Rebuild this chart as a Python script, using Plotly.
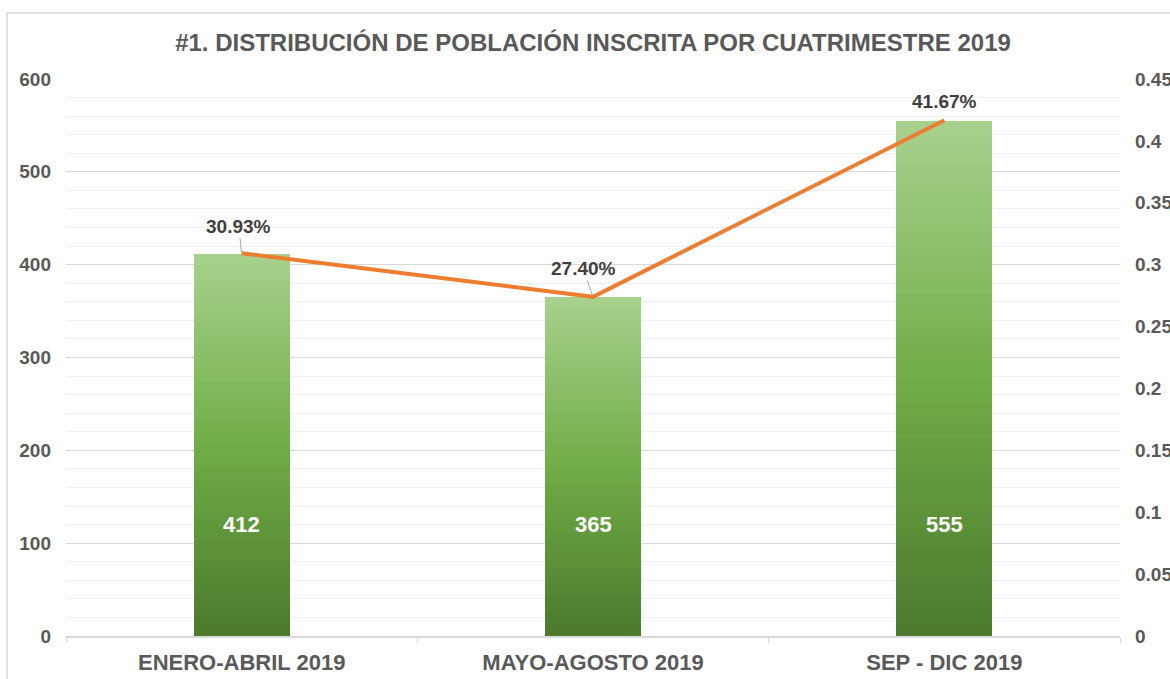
import plotly.graph_objects as go

categories = ["ENERO-ABRIL 2019", "MAYO-AGOSTO 2019", "SEP - DIC 2019"]
inscritos = [412, 365, 555]
porcentaje = [0.3093, 0.2740, 0.4167]
title_text = "#1. DISTRIBUCIÓN DE POBLACIÓN INSCRITA POR CUATRIMESTRE 2019"

FONT = "Liberation Sans, Arial, sans-serif"
GRAY = "#595959"

# gradient stops (bottom -> middle -> top)
c_bot = (76, 121, 45)
c_mid = (112, 173, 71)
c_top = (169, 209, 142)


def grad(t):
    if t < 0.5:
        a, b, u = c_bot, c_mid, t / 0.5
    else:
        a, b, u = c_mid, c_top, (t - 0.5) / 0.5
    return "rgb(%d,%d,%d)" % tuple(round(a[i] + (b[i] - a[i]) * u) for i in range(3))


fig = go.Figure()
N = 60
for k in range(N, 0, -1):
    f = k / N
    fig.add_trace(go.Bar(
        x=categories, y=[v * f for v in inscritos], width=0.273,
        marker=dict(color=grad(f - 0.5 / N), line=dict(width=0)),
        hoverinfo="skip", showlegend=False, yaxis="y",
    ))

fig.add_trace(go.Scatter(
    x=categories, y=porcentaje, yaxis="y2", mode="lines",
    line=dict(color="#ED7D31", width=4), showlegend=False, hoverinfo="skip",
))

# value labels inside bars
for c, v in zip(categories, inscritos):
    fig.add_annotation(x=c, y=120, xref="x", yref="y", text=str(v), showarrow=False,
                       font=dict(family=FONT, size=22, color="white", weight="bold"))

# percentage labels
offsets = [(-3, -27, True), (-10, -28, True), (0, -19, False)]
for c, p, (ax, ay, arr) in zip(categories, porcentaje, offsets):
    if arr:
        fig.add_annotation(x=c, y=p, xref="x", yref="y2", text=f"{p*100:.2f}%",
                           showarrow=True, arrowhead=0, arrowwidth=1, arrowcolor="#A6A6A6",
                           ax=ax, ay=ay, standoff=1,
                           font=dict(family=FONT, size=19, color="#404040", weight="bold"))
    else:
        fig.add_annotation(x=c, y=p, xref="x", yref="y2", text=f"{p*100:.2f}%",
                           showarrow=False, yshift=-ay,
                           font=dict(family=FONT, size=19, color="#404040", weight="bold"))

# chart border
fig.add_shape(type="rect", xref="paper", yref="paper",
              x0=(7 - 66) / 1054, x1=(1180 - 66) / 1054,
              y0=(636 - 690) / 557, y1=(636 - 13) / 557,
              line=dict(color="#D9D9D9", width=1.5), layer="below")

fig.update_layout(
    width=1170, height=679,
    margin=dict(l=66, r=50, t=79, b=43, autoexpand=False),
    paper_bgcolor="white", plot_bgcolor="white",
    barmode="overlay", bargap=0,
    title=dict(text=title_text, x=(593) / 1170, xanchor="center", y=1 - 43 / 679, yanchor="middle",
               font=dict(family=FONT, size=24, color=GRAY, weight="bold")),
    font=dict(family=FONT, color=GRAY),
    xaxis=dict(
        type="category", range=[-0.5, 2.5], showgrid=False, automargin=False,
        showline=True, linecolor="#D9D9D9", linewidth=1.5,
        ticks="outside", tickson="boundaries", ticklen=5, tickcolor="#D9D9D9",
        tickfont=dict(family=FONT, size=22, color=GRAY, weight="bold"),
        ticklabelstandoff=6,
    ),
    yaxis=dict(
        range=[0, 600], dtick=100, showgrid=True, gridcolor="#D9D9D9", gridwidth=1,
        zeroline=False, showline=False, automargin=False,
        minor=dict(dtick=20, showgrid=True, gridcolor="#F0F0F0", gridwidth=1),
        tickfont=dict(family=FONT, size=19, color=GRAY, weight="bold"),
        ticklabelstandoff=14,
    ),
    yaxis2=dict(
        range=[0, 0.45], dtick=0.05, overlaying="y", side="right", showgrid=False,
        zeroline=False, showline=False, automargin=False,
        tickfont=dict(family=FONT, size=19, color=GRAY, weight="bold"),
        ticklabelstandoff=14,
    ),
)

fig.write_html("out.html", config={"displayModeBar": False},
               post_script="document.body.style.margin='0';")
